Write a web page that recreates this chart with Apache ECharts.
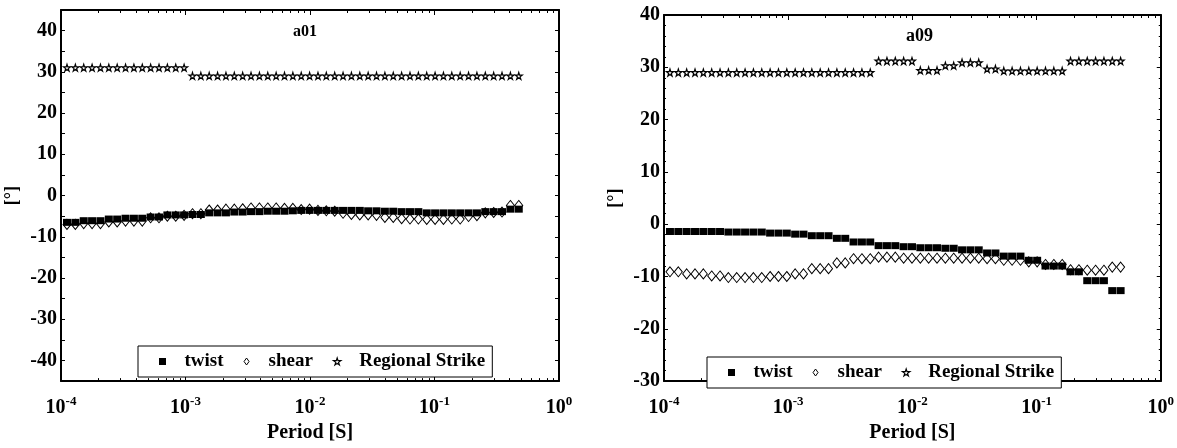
<!DOCTYPE html>
<html>
<head>
<meta charset="utf-8">
<script src="https://cdn.jsdelivr.net/npm/echarts@6/dist/echarts.min.js"></script>
<style>
  html, body { margin: 0; padding: 0; background: #fff; }
  #chart { width: 1177px; height: 448px; }
</style>
</head>
<body>
<div id="chart"></div>
<script>
// Periods (s) shared by both stations
const periods = [
  1.117e-4, 1.304e-4, 1.522e-4, 1.777e-4, 2.074e-4, 2.421e-4, 2.826e-4, 3.299e-4, 3.851e-4, 4.495e-4,
  5.248e-4, 6.126e-4, 7.151e-4, 8.347e-4, 9.745e-4, 1.138e-3, 1.328e-3, 1.550e-3, 1.810e-3, 2.113e-3,
  2.466e-3, 2.879e-3, 3.360e-3, 3.923e-3, 4.579e-3, 5.346e-3, 6.240e-3, 7.284e-3, 8.503e-3, 9.926e-3,
  1.159e-2, 1.352e-2, 1.579e-2, 1.843e-2, 2.151e-2, 2.512e-2, 2.932e-2, 3.422e-2, 3.995e-2, 4.664e-2,
  5.445e-2, 6.355e-2, 7.419e-2, 8.660e-2, 0.1011, 0.1180, 0.1377, 0.1608, 0.1877, 0.2191,
  0.2559, 0.2987, 0.3486, 0.4070, 0.4751
];

// Station a01
const twistA01 = [
  -6.5, -6.5, -6.1, -6.1, -6.1, -5.7, -5.7, -5.5, -5.5, -5.5,
  -5.2, -5.2, -4.7, -4.7, -4.7, -4.6, -4.6, -4.2, -4.2, -4.2,
  -4.0, -4.0, -3.9, -3.9, -3.8, -3.8, -3.8, -3.7, -3.6, -3.6,
  -3.6, -3.6, -3.6, -3.6, -3.6, -3.6, -3.7, -3.7, -3.8, -3.8,
  -3.9, -3.9, -3.9, -4.2, -4.2, -4.2, -4.2, -4.2, -4.2, -4.2,
  -3.9, -3.9, -3.9, -3.3, -3.3
];
const shearA01 = [
  -7.0, -7.0, -6.8, -6.8, -6.8, -6.4, -6.4, -6.2, -6.2, -6.2,
  -5.4, -5.4, -5.0, -5.0, -4.8, -4.4, -4.4, -3.5, -3.5, -3.3,
  -3.3, -3.2, -3.0, -3.0, -3.0, -3.0, -3.1, -3.1, -3.4, -3.3,
  -3.6, -3.7, -3.8, -4.3, -4.6, -4.7, -4.7, -4.8, -5.3, -5.3,
  -5.6, -5.7, -5.7, -5.8, -5.8, -5.8, -5.7, -5.7, -5.1, -4.9,
  -4.2, -4.1, -4.0, -2.4, -2.4
];
const strikeA01 = [
  31, 31, 31, 31, 31, 31, 31, 31, 31, 31,
  31, 31, 31, 31, 31, 29, 29, 29, 29, 29,
  29, 29, 29, 29, 29, 29, 29, 29, 29, 29,
  29, 29, 29, 29, 29, 29, 29, 29, 29, 29,
  29, 29, 29, 29, 29, 29, 29, 29, 29, 29,
  29, 29, 29, 29, 29
];

// Station a09
const twistA09 = [
  -1.4, -1.4, -1.4, -1.4, -1.4, -1.4, -1.4, -1.5, -1.5, -1.5,
  -1.5, -1.5, -1.7, -1.7, -1.7, -1.9, -1.9, -2.2, -2.2, -2.2,
  -2.7, -2.7, -3.4, -3.4, -3.4, -4.1, -4.1, -4.1, -4.3, -4.3,
  -4.5, -4.5, -4.5, -4.6, -4.6, -4.9, -4.9, -4.9, -5.5, -5.5,
  -6.1, -6.1, -6.1, -6.9, -6.9, -8.0, -8.0, -8.0, -9.1, -9.1,
  -10.8, -10.8, -10.8, -12.7, -12.7
];
const shearA09 = [
  -9.1, -9.1, -9.5, -9.5, -9.5, -9.9, -9.9, -10.2, -10.2, -10.2,
  -10.2, -10.2, -10.0, -10.0, -10.0, -9.5, -9.5, -8.5, -8.5, -8.5,
  -7.4, -7.4, -6.6, -6.6, -6.6, -6.3, -6.3, -6.3, -6.5, -6.5,
  -6.5, -6.5, -6.5, -6.5, -6.5, -6.5, -6.5, -6.5, -6.6, -6.6,
  -6.9, -6.9, -6.9, -7.2, -7.2, -7.7, -7.7, -7.7, -8.7, -8.7,
  -8.8, -8.8, -8.8, -8.2, -8.2
];
const strikeA09 = [
  29, 29, 29, 29, 29, 29, 29, 29, 29, 29,
  29, 29, 29, 29, 29, 29, 29, 29, 29, 29,
  29, 29, 29, 29, 29, 31.2, 31.2, 31.2, 31.2, 31.2,
  29.4, 29.4, 29.4, 30.3, 30.3, 30.9, 30.9, 30.9, 29.7, 29.7,
  29.3, 29.3, 29.3, 29.3, 29.3, 29.3, 29.3, 29.3, 31.2, 31.2,
  31.2, 31.2, 31.2, 31.2, 31.2
];

const seriesNames = ['twist', 'shear', 'Regional Strike'];
const stationTitles = ['a01', 'a09'];

const FONT = 'Liberation Serif';
// Marker outlines as paths so that they keep their aspect inside the legend
const SQUARE = 'path://M0,0 L10,0 L10,10 L0,10 Z';
const DIAMOND = 'path://M5,0 L10,7 L5,14 L0,7 Z';
const STAR = 'path://M50,0 L61,35 L98,35 L68,57 L79,91 L50,70 L21,91 L32,57 L2,35 L39,35 Z';

function pairs(vals) {
  return periods.map((p, i) => [p, vals[i]]);
}

function xAxes(gridIndex) {
  const common = {
    type: 'log', logBase: 10, min: 1e-4, max: 1, gridIndex: gridIndex,
    axisLine: { show: true, onZero: false, lineStyle: { color: '#000', width: 2 } },
    axisTick: { show: true, inside: true, length: 5, lineStyle: { color: '#000', width: 1 } },
    minorTick: { show: true, splitNumber: 9, length: 3, lineStyle: { color: '#000', width: 1 } },
    splitLine: { show: false },
    minorSplitLine: { show: false }
  };
  return [
    Object.assign({}, common, {
      position: 'bottom',
      name: 'Period [S]', nameLocation: 'middle', nameGap: 40,
      nameTextStyle: { fontFamily: FONT, fontWeight: 'bold', fontSize: 20, color: '#000' },
      axisLabel: {
        show: true, margin: 14, color: '#000',
        formatter: function (v) {
          const e = Math.round(Math.log10(v));
          return '{b|10}{s|' + e + '}';
        },
        rich: {
          b: { fontFamily: FONT, fontWeight: 'bold', fontSize: 20, lineHeight: 26, color: '#000' },
          s: { fontFamily: FONT, fontWeight: 'bold', fontSize: 13, lineHeight: 14, verticalAlign: 'top', color: '#000' }
        }
      }
    }),
    Object.assign({}, common, { position: 'top', axisLabel: { show: false } })
  ];
}

function yAxes(gridIndex, min, max, interval, minorSplit) {
  const common = {
    type: 'value', min: min, max: max, interval: interval, gridIndex: gridIndex,
    axisLine: { show: true, onZero: false, lineStyle: { color: '#000', width: 2 } },
    axisTick: { show: true, inside: true, length: 4, lineStyle: { color: '#000', width: 1 } },
    minorTick: { show: minorSplit > 0, splitNumber: minorSplit || 5, length: 2, lineStyle: { color: '#000', width: 1 } },
    splitLine: { show: false }
  };
  return [
    Object.assign({}, common, {
      position: 'left',
      name: '[°]', nameLocation: 'middle', nameGap: 40, nameRotate: 90,
      nameTextStyle: { fontFamily: FONT, fontWeight: 'bold', fontSize: 18, color: '#000' },
      axisLabel: {
        show: true, margin: 4, color: '#000',
        fontFamily: FONT, fontWeight: 'bold', fontSize: 20,
        formatter: function (v) { return (v % 10 === 0) ? String(v) : ''; }
      }
    }),
    Object.assign({}, common, { position: 'right', axisLabel: { show: false } })
  ];
}

const twistStyle = { color: '#000', opacity: 1 };
const shearStyle = { color: '#fff', borderColor: '#000', borderWidth: 1, opacity: 1 };
const strikeStyle = { color: '#fff', borderColor: '#000', borderWidth: 1.2, opacity: 1 };

function stationSeries(gridIdx, twist, shear, strike) {
  const xi = gridIdx * 2, yi = gridIdx * 2;
  return [
    {
      name: 'shear', type: 'scatter', xAxisIndex: xi, yAxisIndex: yi, z: 2,
      symbol: 'diamond', symbolSize: [8, 10],
      itemStyle: shearStyle,
      data: pairs(shear)
    },
    {
      name: 'twist', type: 'scatter', xAxisIndex: xi, yAxisIndex: yi, z: 3,
      symbol: 'rect', symbolSize: [8, 7],
      itemStyle: twistStyle,
      data: pairs(twist)
    },
    {
      name: 'Regional Strike', type: 'scatter', xAxisIndex: xi, yAxisIndex: yi, z: 4,
      symbol: STAR, symbolSize: 7,
      itemStyle: strikeStyle,
      data: pairs(strike)
    }
  ];
}

function legendAt(left, top) {
  return {
    left: left, top: top, orient: 'horizontal',
    data: [
      { name: seriesNames[0], icon: SQUARE, itemStyle: twistStyle },
      { name: seriesNames[1], icon: DIAMOND, itemStyle: shearStyle },
      { name: seriesNames[2], icon: STAR, itemStyle: strikeStyle }
    ],
    symbolKeepAspect: true,
    itemWidth: 34, itemHeight: 7, itemGap: 20,
    padding: [6, 7, 6, 21],
    borderColor: '#000', borderWidth: 1, backgroundColor: '#fff',
    selectedMode: false,
    textStyle: { fontFamily: FONT, fontWeight: 'bold', fontSize: 19, color: '#000' }
  };
}

const chart = echarts.init(document.getElementById('chart'), null, { renderer: 'canvas' });

chart.setOption({
  animation: false,
  backgroundColor: '#fff',
  title: [
    { text: stationTitles[0], left: 293, top: 24, padding: 0,
      textStyle: { fontFamily: FONT, fontWeight: 'bold', fontSize: 16, color: '#000' } },
    { text: stationTitles[1], left: 906, top: 27, padding: 0,
      textStyle: { fontFamily: FONT, fontWeight: 'bold', fontSize: 18, color: '#000' } }
  ],
  legend: [legendAt(138, 346), legendAt(707, 357)],
  grid: [
    { left: 61, top: 10, width: 498, height: 384 },
    { left: 664, top: 15, width: 498, height: 378 }
  ],
  xAxis: xAxes(0).concat(xAxes(1)),
  yAxis: yAxes(0, -45, 45, 5, 0).concat(yAxes(1, -30, 40, 10, 5)),
  series: stationSeries(0, twistA01, shearA01, strikeA01)
    .concat(stationSeries(1, twistA09, shearA09, strikeA09))
});
</script>
</body>
</html>
